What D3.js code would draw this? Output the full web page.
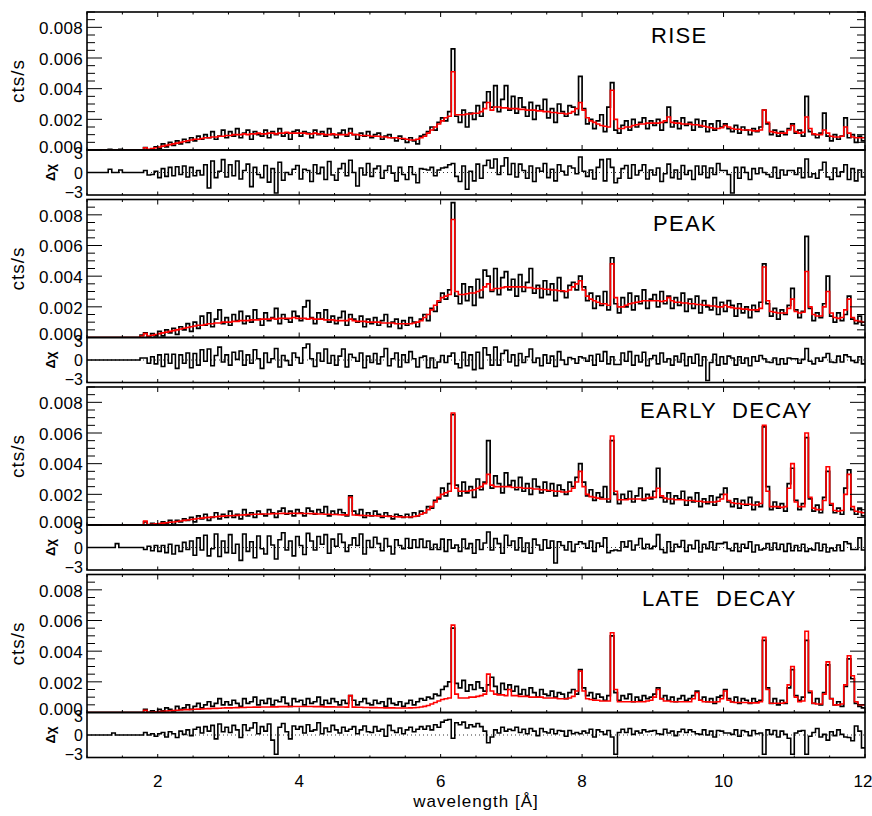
<!DOCTYPE html>
<html><head><meta charset="utf-8">
<script src="https://cdn.jsdelivr.net/npm/d3@7"></script>
<style>body{margin:0;background:#fff} text{font-family:"Liberation Sans",Arial,Helvetica,sans-serif;fill:#000}</style>
</head><body><svg id="c" width="872" height="816"></svg>
<script>
// wavelength bins (Å)
const binStart = 1.0, binWidth = 0.05;
const panelNames = ["RISE", "PEAK", "EARLY DECAY", "LATE DECAY"];
const xTicks = [2, 4, 6, 8, 10, 12];
const yTicks = [0, 20, 40, 60, 80];          // in 1e-4 cts/s
const residTicks = [3, 0, -3];

// count rates in units of 1e-4 cts/s
const riseObs = [0,0,0,0,0,0,0.5,0,0,0.5, 0,0,0,0,0,0,1.5,0,0.5,2,
1,4,2,5,3,6,4,7,5,8, 6,9,7,10,8,12,7,9,13,8, 12,9,14,8,11,13,7,12,10,9, 13,8,12,10,14,9,11,7,12,13,
9,12,11,8,13,10,12,9,14,10, 8,11,13,9,14,10,7,11,9,12, 8,10,11,7,9,10,8,6,9,7, 5,8,6,4,9,10,12,15,13,18,
21,19,25,66,22,18,26,15,24,20, 29,22,31,38,28,42,25,33,42,26, 35,24,34,28,22,31,20,29,26,33, 21,27,18,30,25,22,29,28,23,48,
27,17,20,14,19,23,12,28,44,13, 11,16,19,13,20,15,18,21,14,19, 16,20,13,18,28,15,19,14,21,16, 18,13,20,15,19,12,17,13,19,15,
17,14,12,16,11,15,13,10,14,12, 15,26,17,10,13,9,12,10,14,17, 11,13,9,35,12,10,8,11,24,9, 6,10,7,9,21,8,10,5,9,6];
const riseModel = [0,0,0,0,0,0,0,0,0,0, 0,0,0,0,0,0,1.5,0.5,1,1.5,
2,2.5,3,3.5,4,4.5,5,5.5,6,6.5, 7,7,7.5,8,8,8.5,8.5,9,9,9.5, 9.5,10,10,10,10.5,10,10.5,10.5,11,10.5, 10.5,11,11,10.5,11,11,11.5,11,11,11,
11,11,10.5,10.5,11,10.5,10.5,10,10,10.5, 10,10,10,10,11,10,10,9.5,9.5,9.5, 9,9,9,8.5,8.5,8,8,8,7.5,7.5, 7,6.5,6.5,7,8,9,11,13,15,17,
19,21,22,51,23,23,23,23.5,23.5,24, 24,25,27,31,26,28,28,27.5,27.5,27, 27,27,26.5,26.5,26,26,26,25.5,25.5,25, 25,24.5,24.5,24,24,23.5,24,25,27,31,
26,21,19,18,17,16,15.5,15,39,20, 14,14,15,15,16,16.5,17,17,17.5,17.5, 17.5,17.5,18,19,21.5,18,17.5,17.5,17,17, 17,16.5,16.5,16,15.5,15,14.5,14,14,14.5,
16,15,14,13.5,13.5,13,13,13,12.5,12.5, 13,26,18,12,11.5,11,11,11,13,16, 12,11,11.5,21.5,14,10.5,10,10,13,11, 9,8.5,8.5,9,15,11,8.5,8,8,8];
const riseResid = [0,0,0,0,0,0,0.5,0,0,0.4, 0,0,0,0,0,0,0.3,-0.4,-0.3,0.2,
-0.8,0.6,-0.6,0.8,-0.5,0.9,-0.3,1,-0.7,0.8, -0.5,0.3,-0.4,1.2,-2.4,1.8,-0.8,0.2,2,-0.7, 1.2,-0.5,1.8,-1,0.3,1.3,-2.2,0.8,-0.3,-0.8, 1.1,-1.5,0.6,-3.2,1.6,-1.2,0,-0.3,0.5,1.1,
-1,0.5,0.3,-1.4,1.2,-0.2,0.8,-1.1,1.7,-0.4, -1.2,0.6,1.4,-0.5,1.9,0,-2.1,0.7,-0.4,1.4, -0.6,0.6,1,-0.9,0.3,1,-0.1,-1.3,0.8,-0.3, -1.1,0.9,-0.3,-1.6,0.6,0.5,0.4,0.8,-0.5,0.4,
0.7,0.8,1.2,1.4,-0.6,-1.4,1,-2.6,0.2,-1.3, 1.3,-0.9,1.1,1.9,0.7,2.1,-0.3,1,2.3,-0.3, 1.4,-0.7,1.3,0.3,-0.9,1,-1.4,0.7,0.2,1.4, -0.8,0.5,-1.3,1.2,0.2,-0.4,1,0.7,-0.2,2.4,
0.2,-0.6,0.4,-1,0.8,2,-1.3,2.1,0.8,-1.6, -0.9,0.6,1.1,-0.9,1.2,-0.4,0.3,1.2,-1,0.4, -0.4,0.7,-1.4,-0.2,1.3,-0.8,0.4,-1,1.1,-0.3, 0.3,-1.1,1,-0.3,1,-0.8,0.7,-0.3,1.4,0.3,
0.3,-0.3,-3.2,0.8,-0.9,0.8,0,-1.1,0.6,-0.2, 0.7,0,-0.3,-0.7,0.8,-0.9,0.4,-0.4,0.3,0.3, -0.3,0.7,-0.8,2.1,-0.7,-0.2,-0.9,0.4,1.6,-0.7, -1.1,0.7,-0.6,0.1,1.2,-1.1,0.6,-1.3,0.4,-0.7];

const peakObs = [0,0,0,0,0,0,0,0,0,0, 0,0,0,0,0,1.5,3,0.5,2.5,1,
4,1,5,3,6,2,7,5,9,4, 10,6,14,8,16,7,12,18,9,13, 8,15,11,17,9,14,10,18,12,8, 16,11,13,19,9,15,12,10,17,14,
11,20,24,13,9,16,12,18,10,14, 9,13,17,8,15,12,10,14,7,12, 9,13,8,11,15,7,10,12,6,11, 8,13,10,7,12,15,11,19,17,23,
29,25,31,88,27,22,35,24,33,21, 38,26,44,40,30,45,28,39,43,31, 38,27,41,30,36,45,29,34,26,37, 28,35,24,39,30,26,34,36,31,40,
33,24,29,19,27,21,30,18,52,22, 16,26,20,29,18,27,22,31,19,25, 28,20,30,22,27,19,26,21,29,17, 25,19,27,16,24,20,18,26,15,23,
17,24,21,14,22,16,20,13,21,17, 23,48,22,14,19,12,18,15,21,32, 18,13,17,66,19,11,16,13,22,40, 14,10,16,11,15,27,12,9,14,8];
const peakModel = [0,0,0,0,0,0,0,0,0,0, 0,0,0,0,0,1,2.5,1,1.5,2,
2.5,3,3.5,4,4.5,5,5.5,6,6.5,7, 7.5,8,8,8.5,9,9,9.5,9.5,10,10, 10,10.5,10.5,11,11,11,11.5,11.5,11.5,12, 12,12,12.5,12,12.5,12.5,12.5,12.5,13,12.5,
12.5,12.5,12,12.5,12,12,12,11.5,11.5,11.5, 11,11,11,11,12,11,10.5,10.5,10.5,10, 10,10,10,9.5,9.5,9.5,9.5,9,9,9, 9,9,9.5,10,11,13,15,18,21,24,
26,27,28,77,30,28,28,28.5,29,29, 30,31,33,35,31,32,32,32.5,33,33, 33,33,33,33,32.5,32.5,32,32,32,31.5, 31.5,31,31,30.5,30.5,30,31,33,35,37,
31,27,25,24,23,22,22,21,48,26, 20,20,21,22,22.5,23,23.5,24,24,24, 24,24,23.5,24,26,24,23,23,22.5,22.5, 22,22,21.5,21.5,21,21,20.5,20.5,20,20,
21,20,19.5,19,19,18.5,18.5,18,18,18, 19,46,24,17,16.5,16,16,16,19,25, 17,16,16.5,43,20,15,14,14,20,30, 16,13,12.5,13,18,25,13,11,10.5,10];
const peakResid = [0,0,0,0,0,0,0,0,0,0, 0,0,0,0,0,0.3,0.3,-0.5,0.5,-0.6,
0.8,-1,0.9,-0.5,0.9,-1.3,0.8,-0.5,1.1,-1.2, 1,-0.8,1.6,-0.2,1.7,-0.9,0.7,2,-0.3,0.8, -0.8,1.2,0.1,1.4,-0.8,0.8,-0.5,1.6,0.2,-1.3, 1.1,-0.4,0.2,1.8,-1.1,0.7,-0.1,-0.8,1.1,0.4,
-0.5,1.9,2.5,0.2,-1,1.1,-0.2,1.7,-0.5,0.7, -0.8,0.6,1.7,-1.1,0.9,0.4,-0.2,1.1,-1.2,0.6, -0.4,1,-0.6,0.5,1.8,-0.9,0.2,1.1,-1.1,0.8, -0.4,1.3,0.2,-1.1,0.4,0.6,-1.2,0.3,-1.2,-0.3,
0.7,-0.4,0.6,1.1,-0.6,-1.2,1.2,-0.9,0.8,-1.5, 1.2,-1.3,1.9,0.8,-0.8,2,-0.8,1,1.5,-0.3, 0.8,-0.9,1,-0.4,0.5,1.7,-0.4,0.3,-0.9,0.8, -0.5,0.6,-1,1.3,0,-0.7,0.4,0.2,-0.5,0.5,
0.3,-0.2,0.7,-0.8,0.9,-0.2,1.3,-0.6,0.5,-0.7, -0.7,1.1,-0.2,1.3,-0.8,0.7,-0.3,1.2,-0.9,0.2, 0.7,-0.6,1.1,-0.3,0.2,-0.8,0.6,-0.3,1,-0.9, 0.5,-0.5,0.9,-0.9,0.5,-3.2,-0.4,0.9,-0.8,0.5,
-0.6,0.6,0.3,-0.8,0.5,-0.5,0.3,-0.9,0.5,-0.2, 0.7,0.2,-0.3,-0.4,0.3,-0.7,0.2,-0.6,0.3,0.2, 0.2,-0.5,0.1,1.8,-0.2,-0.6,0.3,-0.2,0.4,1, -0.3,-0.4,0.6,-0.3,0.8,0.5,-0.1,-0.4,0.5,-0.6];

const earlyObs = [0,0,0,0,0,0,0,0,0,0, 0,0,0,0,0,0,2,0,1,0.5,
0,2,1,3,0.5,3,2,4,3,5, 2,6,4,7,3,5,8,4,7,5, 9,5,7,4,10,6,8,5,9,7, 6,10,8,5,9,11,7,9,6,10,
8,6,11,9,7,10,8,12,6,9, 7,10,8,6,19,9,7,10,5,8, 6,9,7,5,8,6,4,7,6,5, 7,5,8,6,9,8,12,11,16,17,
24,19,27,72,26,19,28,21,25,18, 30,23,28,55,24,32,27,21,34,26, 29,23,31,22,27,20,30,25,21,28, 22,27,19,26,23,20,28,25,31,40,
28,19,23,16,21,18,25,15,55,20, 14,20,17,22,15,19,24,16,20,17, 22,37,18,15,21,14,19,17,22,13, 18,15,21,12,17,14,19,13,18,20,
24,15,12,17,11,16,13,18,10,15, 12,64,25,10,15,11,14,9,27,37, 16,10,14,57,17,9,13,8,18,35, 13,8,11,7,24,36,10,7,11,6];
const earlyModel = [0,0,0,0,0,0,0,0,0,0, 0,0,0,0,0,0,2.5,0.3,0.5,0.8,
1,1.2,1.5,1.8,2,2.3,2.6,3,3.3,3.6, 3.9,4.2,4.5,4.8,5,5.2,5.4,5.6,5.8,6, 6,6.2,6.3,6.5,6.6,6.8,6.8,7,7,7.2, 7.2,7.2,7.4,7.4,7.5,7.6,7.5,7.6,7.7,7.6,
7.6,7.5,7.5,7.4,7.4,7.2,7.2,7,7,6.8, 6.8,6.7,6.6,6.6,18,6.5,6.4,6.3,6.2,6.1, 6,6,5.9,5.8,5.7,5.6,5.5,5.4,5.3,5.2, 5.2,5.2,5.5,6,7,8,10,12,15,18,
20,21,22,73,24,22,22,22,22.5,23, 24,25,27,33,26,25,25,25,25,25, 24.5,24.5,24.5,24,24,24,23.5,23.5,23,23, 22.5,22.5,22,22,21.5,21.5,22,24,28,35,
25,20,18.5,18,17.5,17,17,17,58,22, 16.5,16.5,16.5,17,17,17,17,17,17.5,18, 18,24,19,17.5,17,17,16.5,16.5,16.5,16, 16,16,15.5,15.5,15,15,15,15,15.5,17,
20,16,14.5,14,14,13.5,13.5,13.5,13,13, 14,65,22,12,12,12,11.5,12,24,40, 15,12,12,60,18,11,10,10,16,38, 14,9.5,9,9.5,20,33,12,9,8.5,8];
const earlyResid = [0,0,0,0,0,0,0,0,0.6,0, 0,0,0,0,0,0,-0.3,0.2,-0.5,0.3,
-0.6,0.3,-0.8,0.5,-1,0.3,-0.6,0.8,-0.3,1, -1.2,1.5,-0.4,1.9,-1.3,-0.2,2.1,-1.4,1,-0.8, 2,-0.9,0.5,-2,2.1,-0.6,0.9,-1.6,1.8,-0.2, -1,1.8,0.4,-1.8,1.2,2.3,-0.4,1,-1.3,1.7,
0.3,-1.1,2.2,1,-0.4,1.7,0.5,2,-0.9,1.3, 0.2,2.1,0.8,-0.6,0.4,1.5,0.3,2.1,-1,1.1, 0,1.6,0.6,-0.5,1.4,0.2,-1,1.2,0.3,-0.2, 1.4,-0.1,1.2,0,1.3,0,1,-0.3,0.5,-0.3,
1.3,-0.6,1.2,-0.1,0.4,-0.6,1.3,-0.2,0.6,-0.9, 1.2,-0.3,0.7,2.4,-0.4,1.4,0.6,-0.9,1.9,0.3, 1,-0.4,1.5,-0.6,0.7,-0.9,1.3,0.4,-0.4,1.2, -0.1,1,-2.4,0.9,0.3,-0.4,0.9,-0.6,0.5,0.9,
0.6,-0.1,1,-0.6,0.7,0.2,1.5,-0.8,-0.5,-0.4, -0.5,0.9,0.1,1,-0.4,0.4,1.4,-0.2,0.5,-0.2, 0.2,2,-0.3,-0.8,0.9,-0.6,0.5,0.1,1.1,-0.6, 0.4,-0.2,1.1,-0.7,0.5,-0.2,0.9,-0.4,0.6,0.6,
0.8,-0.2,-0.5,0.6,-0.6,0.5,-0.1,0.9,-0.7,0.4, -0.4,-0.2,0.6,-0.4,0.7,-0.3,0.5,-0.6,0.6,-0.5, 0.3,-0.5,0.5,-0.6,-0.2,-0.4,0.7,-0.5,0.5,-0.7, -0.1,-0.5,0.4,-0.5,0.9,0.6,-0.3,-0.3,1.5,-0.4];

const lateObs = [0,0,0,0,0,0,0,0,0,0, 0,0,0,0,0,0,2,0,1,0.5,
2,1,3,2,1,4,2,3,5,2, 4,6,3,5,7,4,6,9,5,7, 5,8,6,4,9,6,7,10,5,8, 6,9,5,8,7,10,6,4,9,7,
8,5,9,6,7,10,5,8,6,9, 7,5,8,6,11,8,5,7,9,6, 5,8,6,7,4,9,6,5,7,4, 6,8,5,7,9,8,10,9,12,11,
15,17,20,55,19,16,21,14,18,15, 20,16,14,18,23,17,12,19,15,18, 14,17,12,15,11,16,13,10,15,12, 11,14,10,13,12,9,13,15,12,28,
16,11,13,9,12,10,8,11,50,13, 8,11,9,12,7,10,8,11,9,10, 12,16,9,11,8,10,7,9,11,8, 9,11,14,8,10,7,9,6,10,11,
15,9,7,10,6,9,8,6,9,7, 8,47,16,6,9,5,8,6,16,28, 11,8,10,47,13,6,9,5,13,31, 9,5,7,4,17,35,22,6,4,3];
const lateModel = [0,0,0,0,0,0,0,0,0,0, 0,0,0,0,0,0,1.5,0.2,0.3,0.5,
0.6,0.8,1,1.1,1.3,1.5,1.6,1.8,1.9,2, 2.1,2.2,2.3,2.4,2.5,2.6,2.7,2.8,2.9,3, 3,3.1,3.2,3.3,3.3,3.4,3.4,3.5,3.5,3.6, 3.6,3.6,3.7,3.7,3.8,3.8,3.8,3.9,3.9,3.9,
3.9,3.9,3.9,3.9,3.8,3.8,3.8,3.7,3.7,3.7, 3.6,3.6,3.6,3.5,11,3.5,3.4,3.4,3.3,3.3, 3.2,3.2,3.1,3.1,3,3,3,2.9,2.9,2.9, 2.9,3,3.1,3.3,3.6,4,4.6,5.5,6.5,7.5,
8.5,9,9.5,57,12,9.5,9.5,9.5,10,10, 10.5,11,12,25,14,12,11.5,11.5,11,15, 11,11,10.5,10.5,10.5,10,10,10,10,9.5, 9.5,9.5,9.5,9,9,9,9.5,10.5,14,27,
14,9,8.5,8,8,7.5,7.5,7.5,52,15, 7,7,7,7,7,7,7,7,7.5,8, 10,15,9,7.5,7.5,7,7,7,7,7, 7,9,13,8,7,7,6.8,6.8,7,9,
14,8,6.8,6.5,6.5,6.5,6.5,6.3,6.3,6.3, 7,49,15,6,6,6,6,6.5,18,30, 10,7,7.5,53,14,6,5.5,5.5,12,33, 9,5,5,5.5,18,37,24,7,5,5];
const lateResid = [0,0,0,0,0,0,0,0.3,0,0, 0,0,0,0,0,0,0.4,0,0.2,-0.2,
0.2,0.4,-0.3,0.5,0.2,-0.4,0.6,0.1,0.8,-0.1, 0.9,1.2,0.3,1.3,0.6,1.5,-0.6,1.7,0.5,1.2, 0.4,1.5,0.8,-0.4,1.6,0.7,1.1,1.9,0.2,1.3, 0.6,1.7,-0.8,-3,1.2,1.8,0.5,-0.6,1.4,0.9,
1.3,0.3,1.6,0.6,0.8,1.9,0.2,1.1,0.5,1.5, 0.8,0.3,1.2,0.6,0.9,1.3,0.2,0.8,1.4,0.5, 0.4,1.3,0.6,0.9,-0.2,1.5,0.7,0.4,1.1,0.2, 0.8,1.2,0.5,0.9,1.3,0.9,1.4,0.8,1.6,1.2,
2,2.3,2.4,-0.5,1.9,1.6,2,1.1,1.6,1.3, 1.8,1.3,0.6,-1.2,-0.3,0.8,0.3,1.2,0.6,0.9, 0.7,1.2,0.4,0.9,0.2,1,0.6,-0.1,1,0.5, 0.3,0.9,0.2,0.7,0.6,-0.2,0.7,0.2,0.4,0.2,
0.6,0.3,0.9,-0.3,0.8,0.5,0.1,0.7,-0.3,-3, 0.4,0.9,0.4,1,0.1,0.6,0.3,0.8,0.5,0.6, 0.7,0.2,0.1,0.9,0.3,0.6,-0.1,0.5,0.9,0.4, 0.8,0.5,0.2,0.1,0.8,0,0.6,-0.3,0.7,0.6,
0.3,0.3,0.1,0.8,-0.2,0.7,0.5,-0.1,0.7,0.2, 0.3,-3,0.8,0.1,0.7,-0.3,0.6,0.1,-0.5,-3, 0.3,0.6,0.7,-3,-0.2,0.4,1,-0.3,0.1,-0.8, 0.5,-0.1,0.8,0.1,-0.3,-0.4,-0.9,1.4,0.6,-2];

const panels = [
  {name: panelNames[0], obs: riseObs,  model: riseModel,  resid: riseResid},
  {name: panelNames[1], obs: peakObs,  model: peakModel,  resid: peakResid},
  {name: panelNames[2], obs: earlyObs, model: earlyModel, resid: earlyResid},
  {name: panelNames[3], obs: lateObs,  model: lateModel,  resid: lateResid}
];

// ---------- layout ----------
const left = 87, right = 865, top0 = 12, pitch = 187.5, mainH = 138, resH = 45;
const svg = d3.select("#c");
const x = d3.scaleLinear().domain([1, 12]).range([left, right]);
const xMinor = d3.range(1, 12.001, 0.5);

function stepPoints(vals) {
  const pts = vals.map((v, i) => [binStart + i * binWidth, v]);
  pts.push([binStart + vals.length * binWidth, vals[vals.length - 1]]);
  return pts;
}

panels.forEach((p, k) => {
  const mTop = top0 + k * pitch, mBot = mTop + mainH;
  const rTop = mBot, rBot = rTop + resH;
  const y = d3.scaleLinear().domain([0, 90]).range([mBot, mTop]);
  const yr = d3.scaleLinear().domain([-3.5, 3.5]).range([rBot, rTop]);

  const cid = "clipM" + k, rid = "clipR" + k;
  const defs = svg.append("defs");
  defs.append("clipPath").attr("id", cid).append("rect")
    .attr("x", left).attr("y", mTop).attr("width", right - left).attr("height", mainH);
  defs.append("clipPath").attr("id", rid).append("rect")
    .attr("x", left).attr("y", rTop).attr("width", right - left).attr("height", resH);

  const line = d3.line().x(d => x(d[0])).y(d => y(d[1])).curve(d3.curveStepAfter);
  const lineR = d3.line().x(d => x(d[0])).y(d => yr(d[1])).curve(d3.curveStepAfter);

  const gm = svg.append("g").attr("clip-path", `url(#${cid})`);
  gm.append("path").attr("d", line(stepPoints(p.obs)))
    .attr("fill", "none").attr("stroke", "#000").attr("stroke-width", 1.7);
  gm.append("path").attr("d", line(stepPoints(p.model)))
    .attr("fill", "none").attr("stroke", "#ff0000").attr("stroke-width", 1.6);

  const gr = svg.append("g").attr("clip-path", `url(#${rid})`);
  gr.append("line").attr("x1", left).attr("x2", right).attr("y1", yr(0)).attr("y2", yr(0))
    .attr("stroke", "#000").attr("stroke-width", 0.8).attr("stroke-dasharray", "1,3");
  gr.append("path").attr("d", lineR(stepPoints(p.resid)))
    .attr("fill", "none").attr("stroke", "#000").attr("stroke-width", 1.6);

  // frames
  svg.append("rect").attr("x", left).attr("y", mTop).attr("width", right - left).attr("height", mainH)
    .attr("fill", "none").attr("stroke", "#000").attr("stroke-width", 1.6);
  svg.append("rect").attr("x", left).attr("y", rTop).attr("width", right - left).attr("height", resH)
    .attr("fill", "none").attr("stroke", "#000").attr("stroke-width", 1.6);

  // x ticks (inward) on main & residual frames
  const tk = svg.append("g").attr("stroke", "#000").attr("stroke-width", 1);
  xMinor.forEach(v => {
    const major = xTicks.includes(v);
    const L = major ? 5 : 2.5, Lr = major ? 3.5 : 2;
    tk.append("line").attr("x1", x(v)).attr("x2", x(v)).attr("y1", mTop).attr("y2", mTop + L);
    tk.append("line").attr("x1", x(v)).attr("x2", x(v)).attr("y1", mBot).attr("y2", mBot - L);
    tk.append("line").attr("x1", x(v)).attr("x2", x(v)).attr("y1", rBot).attr("y2", rBot - Lr);
  });
  // y ticks main
  d3.range(0, 90.001, 5).forEach(v => {
    const major = yTicks.includes(v);
    const L = major ? 15 : 8;
    tk.append("line").attr("x1", left).attr("x2", left + L).attr("y1", y(v)).attr("y2", y(v));
    tk.append("line").attr("x1", right).attr("x2", right - L).attr("y1", y(v)).attr("y2", y(v));
  });

  // y labels
  yTicks.forEach(v => {
    svg.append("text").attr("x", 83).attr("y", y(v)).attr("dy", v === 0 ? "0.15em" : "0.4em")
      .attr("text-anchor", "end").attr("font-size", 17).attr("letter-spacing", "0.3px")
      .text((v / 1e4).toFixed(3));
  });
  residTicks.forEach(v => {
    svg.append("text").attr("x", 83).attr("y", yr(v)).attr("dy", "0.38em")
      .attr("text-anchor", "end").attr("font-size", 16).text(v < 0 ? "\u2212" + Math.abs(v) : String(v));
  });
  svg.append("text").attr("transform", `translate(24,${mTop + mainH / 2}) rotate(-90)`)
    .attr("text-anchor", "middle").attr("font-size", 19).attr("letter-spacing", "1px").text("cts/s");
  svg.append("text").attr("transform", `translate(55,${rTop + resH / 2}) rotate(-90)`)
    .attr("text-anchor", "middle").attr("font-size", 13).attr("font-weight", "bold").text("\u0394\u03c7");

  // panel title
  svg.append("text").attr("x", [651, 653, 640, 642][k]).attr("y", mTop + 31)
    .attr("font-size", 22).attr("letter-spacing", "1.3px").attr("word-spacing", "8px").text(p.name);

  // bottom x labels
  if (k === panels.length - 1) {
    xTicks.forEach((v, j) => {
      svg.append("text").attr("x", x(v) - (j === xTicks.length - 1 ? 2 : 0)).attr("y", rBot + 29)
        .attr("text-anchor", "middle").attr("font-size", 17).text(v);
    });
    svg.append("text").attr("x", (left + right) / 2).attr("y", rBot + 49).attr("text-anchor", "middle")
      .attr("font-size", 17).attr("letter-spacing", "1px").text("wavelength [\u00c5]");
  }
});
</script></body></html>
